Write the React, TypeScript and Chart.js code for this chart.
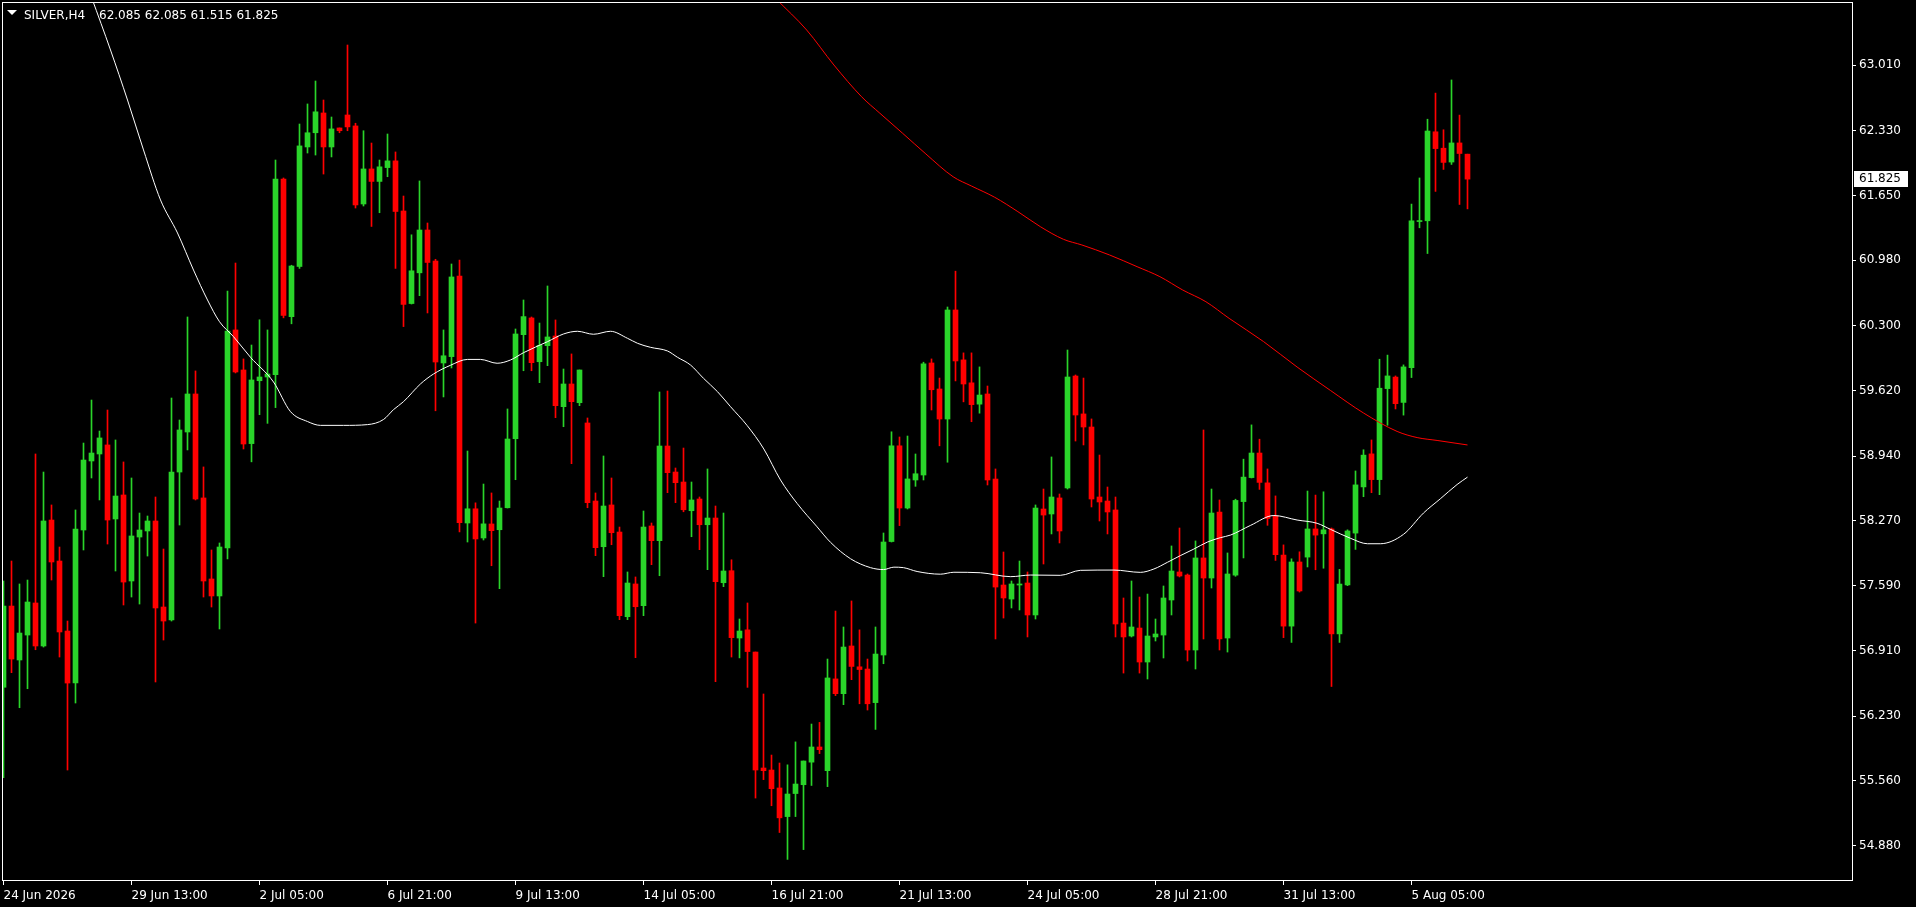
import React, { useEffect, useRef } from 'react';
import { Chart, registerables } from 'chart.js';

Chart.register(...registerables);

// ---------- data ----------
const SYMBOL = 'SILVER,H4';

const OPEN = [
  56.532, 57.378, 56.816, 57.076, 57.410, 56.962, 58.274, 57.847, 57.118, 56.576,
  58.170, 58.889, 58.962, 59.056, 58.285, 58.535, 57.639, 58.097, 58.160, 58.264,
  57.368, 57.233, 58.774, 59.191, 59.587, 58.504, 57.660, 57.483, 57.983, 60.254,
  59.837, 59.070, 59.725, 59.764, 59.787, 61.826, 60.392, 60.915, 62.160, 62.308,
  62.514, 62.160, 62.358, 62.493, 62.379, 61.566, 61.931, 61.801, 61.945, 62.015,
  61.493, 60.529, 60.849, 61.295, 60.972, 59.910, 59.976, 60.816, 58.243, 58.391,
  58.087, 58.233, 58.173, 58.402, 59.121, 60.205, 60.379, 59.923, 60.090, 60.191,
  59.455, 59.691, 59.496, 59.285, 58.472, 57.996, 58.431, 58.149, 57.267, 57.608,
  57.382, 58.212, 58.059, 59.045, 58.774, 58.670, 58.371, 58.493, 58.225, 58.295,
  57.621, 57.746, 57.045, 57.130, 56.899, 55.691, 55.670, 55.483, 55.185, 55.425,
  55.517, 55.752, 55.910, 55.663, 56.619, 56.465, 56.962, 56.745, 56.722, 56.372,
  56.868, 58.050, 59.047, 58.399, 58.691, 58.743, 59.910, 59.639, 59.326, 60.462,
  59.942, 59.703, 59.481, 59.587, 58.701, 57.597, 57.451, 57.597, 57.618, 57.285,
  58.389, 58.337, 58.504, 58.608, 59.774, 59.379, 59.243, 58.514, 58.472, 58.379,
  57.201, 57.066, 57.149, 56.795, 57.056, 57.076, 57.441, 57.733, 57.701, 56.920,
  57.879, 57.670, 58.358, 57.045, 57.700, 58.466, 58.716, 58.972, 58.661, 58.317,
  57.909, 57.169, 57.837, 57.888, 58.181, 58.130, 58.181, 57.088, 57.598, 58.138,
  58.619, 58.963, 58.695, 59.643, 59.763, 59.499, 59.860, 61.383, 61.391, 62.318,
  62.147, 62.003, 62.202, 62.085,
];

const HIGH = [
  57.639, 57.847, 57.608, 57.649, 58.962, 58.774, 58.431, 57.993, 57.222, 58.379,
  59.076, 59.524, 59.201, 59.420, 59.108, 58.879, 58.712, 58.347, 58.316, 58.514,
  57.972, 59.545, 59.316, 60.389, 59.827, 58.827, 57.962, 58.035, 60.660, 60.951,
  59.952, 60.097, 60.360, 60.254, 62.024, 61.837, 60.928, 62.399, 62.608, 62.847,
  62.649, 62.472, 62.358, 63.222, 62.407, 62.329, 62.201, 62.024, 62.295, 62.108,
  61.649, 61.245, 61.806, 61.368, 60.990, 60.254, 60.941, 60.983, 58.993, 58.453,
  58.649, 58.556, 58.472, 59.431, 60.264, 60.566, 60.389, 60.326, 60.712, 60.358,
  59.847, 60.004, 59.837, 59.337, 58.556, 58.941, 58.712, 58.201, 57.733, 57.681,
  58.368, 58.243, 59.608, 59.618, 58.816, 59.024, 58.670, 58.514, 58.806, 58.420,
  58.347, 57.860, 57.243, 57.410, 56.899, 56.462, 55.826, 55.743, 55.724, 55.963,
  55.764, 56.149, 56.166, 56.826, 57.326, 57.160, 57.431, 57.130, 56.826, 57.160,
  58.139, 59.193, 59.139, 59.149, 58.962, 59.918, 59.952, 59.753, 60.493, 60.866,
  60.015, 60.015, 59.869, 59.670, 58.806, 57.941, 57.639, 57.847, 57.733, 58.431,
  58.597, 58.931, 58.545, 60.045, 59.785, 59.753, 59.327, 58.951, 58.618, 58.514,
  57.462, 57.639, 57.472, 57.503, 57.243, 57.587, 58.004, 58.191, 57.712, 58.056,
  59.212, 58.597, 58.483, 57.931, 58.491, 58.908, 59.265, 59.116, 58.806, 58.525,
  58.015, 57.870, 57.943, 58.576, 58.534, 58.568, 58.191, 57.760, 58.172, 58.785,
  59.006, 59.108, 59.949, 59.992, 59.775, 59.890, 61.565, 61.837, 62.449, 62.721,
  62.339, 62.858, 62.492, 62.085,
];

const LOW = [
  55.590, 56.684, 56.319, 56.517, 56.923, 56.951, 57.649, 56.847, 55.670, 56.368,
  57.962, 58.712, 58.483, 58.024, 57.743, 57.389, 57.472, 57.399, 57.899, 56.587,
  57.024, 57.222, 58.222, 59.004, 58.483, 57.472, 57.368, 57.139, 57.868, 59.806,
  59.014, 58.880, 59.371, 59.281, 59.445, 60.380, 60.318, 60.895, 62.097, 62.076,
  61.878, 62.056, 62.308, 62.329, 61.524, 61.545, 61.332, 61.475, 61.850, 60.895,
  60.289, 60.524, 60.611, 60.431, 59.412, 59.556, 59.858, 58.149, 58.045, 57.201,
  58.066, 57.798, 57.559, 58.399, 58.694, 59.829, 59.829, 59.705, 59.882, 59.340,
  59.246, 58.861, 59.465, 58.402, 57.903, 57.684, 58.017, 57.236, 57.236, 56.840,
  57.278, 57.809, 57.694, 58.559, 58.455, 58.360, 58.100, 57.965, 57.757, 56.590,
  57.580, 56.847, 56.838, 56.531, 55.378, 55.570, 55.298, 55.019, 54.739, 55.185,
  54.841, 55.509, 55.841, 55.497, 56.445, 56.351, 56.611, 56.360, 56.295, 56.093,
  56.777, 58.045, 58.216, 58.389, 58.625, 58.691, 59.420, 59.047, 58.876, 59.723,
  59.505, 59.298, 59.387, 58.639, 57.035, 57.253, 57.358, 57.337, 57.056, 57.243,
  57.816, 58.129, 58.035, 58.597, 59.097, 59.056, 58.410, 58.264, 58.129, 57.056,
  56.680, 57.056, 56.680, 56.618, 57.014, 56.837, 57.285, 57.681, 56.806, 56.722,
  57.035, 57.566, 56.920, 56.899, 57.688, 57.879, 58.712, 58.593, 58.219, 57.853,
  57.049, 56.999, 57.524, 57.785, 57.756, 57.772, 56.540, 56.999, 57.590, 57.968,
  58.517, 58.559, 58.538, 59.261, 59.431, 59.367, 59.758, 61.318, 61.050, 61.697,
  61.926, 61.978, 61.561, 61.515,
];

const CLOSE = [
  57.378, 56.826, 57.097, 57.420, 56.962, 58.264, 57.837, 57.108, 56.576, 58.181,
  58.899, 58.972, 59.129, 58.274, 58.524, 57.628, 58.108, 58.170, 58.264, 57.358,
  57.222, 58.774, 59.212, 59.587, 58.493, 57.639, 57.483, 57.993, 60.243, 59.816,
  59.066, 59.733, 59.764, 59.795, 61.826, 60.405, 60.920, 62.171, 62.308, 62.526,
  62.160, 62.348, 62.329, 62.369, 61.556, 61.931, 61.801, 61.953, 62.015, 61.488,
  60.520, 60.870, 61.295, 60.957, 59.920, 59.985, 60.806, 58.246, 58.391, 58.077,
  58.234, 58.163, 58.399, 59.118, 60.212, 60.393, 59.913, 60.094, 60.181, 59.465,
  59.691, 59.507, 59.837, 58.455, 57.986, 58.420, 58.142, 57.278, 57.618, 57.371,
  58.201, 58.059, 59.045, 58.767, 58.663, 58.381, 58.483, 58.225, 58.295, 57.632,
  57.743, 57.049, 57.118, 56.904, 55.670, 55.663, 55.476, 55.172, 55.420, 55.524,
  55.764, 55.910, 55.882, 56.629, 56.465, 56.951, 56.749, 56.717, 56.360, 56.878,
  58.045, 59.047, 58.399, 58.702, 58.756, 59.901, 59.631, 59.326, 60.462, 59.931,
  59.691, 59.476, 59.576, 58.691, 57.576, 57.462, 57.608, 57.608, 57.285, 58.399,
  58.326, 58.514, 58.160, 59.764, 59.368, 59.243, 58.493, 58.462, 58.358, 57.191,
  57.056, 57.160, 56.795, 57.066, 57.087, 57.462, 57.743, 57.691, 56.920, 57.879,
  57.670, 58.347, 57.035, 57.712, 58.478, 58.721, 58.972, 58.666, 58.291, 57.913,
  57.169, 57.837, 57.535, 58.181, 58.117, 58.172, 57.088, 57.607, 58.160, 58.640,
  58.950, 58.695, 59.647, 59.775, 59.486, 59.869, 61.391, 61.391, 62.326, 62.143,
  61.999, 62.202, 62.092, 61.825,
];

// white moving average, sampled (bar index, price)
const MA_WHITE_X = [
  11.0, 13.375, 15.5, 17.5, 19.625, 21.75, 23.75, 25.5, 27, 28.75, 30.875, 33.75,
  35.875, 38, 39.625, 42.5, 45.5, 47.5, 48.75, 50, 52.125, 53.75, 55.875, 58,
  59.625, 61.7, 63.375, 65, 68, 70, 71.75, 73.75, 75.875, 78, 79.25, 80.875, 83,
  84.25, 85.875, 87.5, 89.25, 90.875, 92.96, 95.04, 97.125, 99.2, 101.7, 103.375,
  105.875, 108.375, 110, 111.3, 112.5, 114.2, 117.125, 118.8, 122.125, 125.9,
  128.4, 132.1, 134.6, 138.8, 142.1, 143.8, 145.5, 147.1, 148.8, 150.5, 152.1,
  153.4, 155.9, 158.8, 161.7, 164.2, 165.9, 168.4, 170.5, 172.1, 175, 177.5,
  179.6, 181.7, 183,
];
const MA_WHITE_Y = [
  63.72, 63.17, 62.649, 62.129, 61.608, 61.264, 60.878, 60.566, 60.34, 60.184,
  59.969, 59.712, 59.403, 59.3, 59.26, 59.26, 59.268, 59.321, 59.424, 59.507,
  59.692, 59.795, 59.886, 59.947, 59.947, 59.907, 59.941, 60.017, 60.132, 60.212,
  60.24, 60.209, 60.24, 60.167, 60.115, 60.073, 60.035, 59.969, 59.889, 59.75,
  59.611, 59.455, 59.258, 59.014, 58.691, 58.447, 58.203, 58.042, 57.871, 57.778,
  57.758, 57.783, 57.778, 57.738, 57.71, 57.73, 57.725, 57.684, 57.701, 57.698,
  57.75, 57.753, 57.729, 57.764, 57.834, 57.903, 57.972, 58.045, 58.09, 58.118,
  58.219, 58.321, 58.274, 58.24, 58.176, 58.083, 58.027, 58.027, 58.125, 58.347,
  58.495, 58.644, 58.721,
];

// red moving average, sampled (bar index, price)
const MA_RED_X = [
  96.6, 100.4, 103.8, 107.25, 109.55, 112.4, 115.3, 118.7, 121.0, 123.9, 126.8,
  129.6, 132.5, 134.8, 138.25, 141.7, 144.55, 147.4, 150.3, 153.2, 157.5, 161.7,
  165.9, 170.0, 174.2, 176.7, 179.2, 183.0,
];
const MA_RED_Y = [
  63.70, 63.378, 63.014, 62.684, 62.511, 62.302, 62.087, 61.85, 61.753, 61.636,
  61.486, 61.33, 61.198, 61.139, 61.035, 60.913, 60.809, 60.67, 60.548, 60.375,
  60.133, 59.868, 59.622, 59.389, 59.197, 59.133, 59.103, 59.056,
];

const X_TICK_INDEX = [0, 16, 32, 48, 64, 80, 96, 112, 128, 144, 160, 176];
const X_TICK_LABELS = [
  '24 Jun 2026', '29 Jun 13:00', '2 Jul 05:00', '6 Jul 21:00', '9 Jul 13:00',
  '14 Jul 05:00', '16 Jul 21:00', '21 Jul 13:00', '24 Jul 05:00', '28 Jul 21:00',
  '31 Jul 13:00', '5 Aug 05:00',
];
const Y_TICKS = [
  63.01, 62.33, 61.65, 60.98, 60.3, 59.62, 58.94, 58.27, 57.59, 56.91, 56.23, 55.56, 54.88,
];

// visible ranges of the two axes
const X_MIN = -0.1875;
const X_MAX = 231.1875;
const Y_MIN = 54.514;
const Y_MAX = 63.67;

// ---------- styling ----------
const W = 1916;
const H = 907;
const FONT = '"DejaVu Sans", sans-serif';
const BULL = '#2ad42a';
const BEAR = '#ff0000';

const chromePlugin = {
  id: 'mt4chrome',
  beforeDraw(chart: any) {
    const ctx = chart.ctx;
    ctx.save();
    ctx.fillStyle = '#000';
    ctx.fillRect(0, 0, chart.width, chart.height);
    ctx.restore();
  },
  afterDraw(chart: any) {
    const ctx = chart.ctx;
    const { left, top, right, bottom } = chart.chartArea;
    ctx.save();
    // frame
    ctx.strokeStyle = '#ffffff';
    ctx.lineWidth = 1;
    ctx.strokeRect(left + 0.5, top + 0.5, right - left - 1, bottom - top - 1);

    // header
    const last = CLOSE.length - 1;
    ctx.fillStyle = '#ffffff';
    ctx.beginPath();
    ctx.moveTo(7, 10);
    ctx.lineTo(17, 10);
    ctx.lineTo(12, 15);
    ctx.closePath();
    ctx.fill();
    ctx.font = `12px ${FONT}`;
    ctx.textBaseline = 'alphabetic';
    ctx.textAlign = 'left';
    ctx.fillText(SYMBOL, 24, 19);
    ctx.fillText(
      [OPEN[last], HIGH[last], LOW[last], CLOSE[last]].map((v) => v.toFixed(3)).join(' '),
      99,
      19
    );

    // current price box
    const y = chart.scales.y.getPixelForValue(CLOSE[last]);
    ctx.fillStyle = '#ffffff';
    ctx.fillRect(right + 1, Math.round(y) - 8, 54, 16);
    ctx.fillStyle = '#000000';
    ctx.textBaseline = 'middle';
    ctx.fillText(CLOSE[last].toFixed(3), right + 6, Math.round(y));
    ctx.restore();
  },
};

export default function App() {
  const ref = useRef<HTMLCanvasElement | null>(null);

  useEffect(() => {
    const canvas = ref.current;
    if (!canvas) return;
    document.body.style.margin = '0';
    document.body.style.background = '#000';

    const idx = CLOSE.map((_, i) => i);
    const colors = idx.map((i) => (CLOSE[i] >= OPEN[i] ? BULL : BEAR));

    const chart = new Chart(canvas, {
      type: 'bar',
      data: {
        datasets: [
          {
            type: 'line',
            data: MA_WHITE_X.map((x, k) => ({ x, y: MA_WHITE_Y[k] })),
            borderColor: '#ffffff',
            borderWidth: 1,
            pointRadius: 0,
            fill: false,
            cubicInterpolationMode: 'monotone',
          } as any,
          {
            type: 'line',
            data: MA_RED_X.map((x, k) => ({ x, y: MA_RED_Y[k] })),
            borderColor: '#ff0000',
            borderWidth: 1,
            pointRadius: 0,
            fill: false,
            cubicInterpolationMode: 'monotone',
          } as any,
          {
            type: 'bar',
            data: idx.map((i) => ({ x: i, y: [OPEN[i], CLOSE[i]] })),
            backgroundColor: colors,
            borderWidth: 0,
            barThickness: 5,
            minBarLength: 1,
            grouped: false,
          } as any,
          {
            type: 'bar',
            data: idx.map((i) => ({ x: i, y: [LOW[i], HIGH[i]] })),
            backgroundColor: colors,
            borderWidth: 0,
            barThickness: 1,
            minBarLength: 1,
            grouped: false,
          } as any,
        ],
      },
      options: {
        responsive: false,
        animation: false,
        devicePixelRatio: 1,
        events: [],
        layout: { padding: { left: 2, top: 2, right: 0, bottom: 0 } },
        plugins: { legend: { display: false }, tooltip: { enabled: false } },
        scales: {
          x: {
            type: 'linear',
            position: 'bottom',
            min: X_MIN,
            max: X_MAX,
            offset: false,
            bounds: 'data',
            border: { display: false },
            grid: {
              offset: false,
              drawOnChartArea: false,
              drawTicks: true,
              tickLength: 4,
              color: '#ffffff',
            },
            afterBuildTicks: (s: any) => {
              s.ticks = X_TICK_INDEX.map((v) => ({ value: v }));
            },
            afterFit: (s: any) => {
              s.height = H - 881;
              s.paddingLeft = 0;
              s.paddingRight = 0;
              s.paddingTop = 0;
              s.paddingBottom = 0;
            },
            ticks: {
              autoSkip: false,
              maxRotation: 0,
              minRotation: 0,
              align: 'start',
              padding: 4,
              color: '#ffffff',
              font: { family: FONT, size: 12 },
              callback: (_v: any, k: number) => X_TICK_LABELS[k] ?? '',
            },
          },
          y: {
            type: 'linear',
            position: 'right',
            min: Y_MIN,
            max: Y_MAX,
            beginAtZero: false,
            bounds: 'data',
            border: { display: false },
            grid: {
              drawOnChartArea: false,
              drawTicks: true,
              tickLength: 3,
              color: '#ffffff',
            },
            afterBuildTicks: (s: any) => {
              s.ticks = Y_TICKS.map((v) => ({ value: v }));
            },
            afterFit: (s: any) => {
              s.width = W - 1853;
              s.paddingLeft = 0;
              s.paddingRight = 0;
              s.paddingTop = 0;
              s.paddingBottom = 0;
            },
            ticks: {
              padding: 3,
              color: '#ffffff',
              font: { family: FONT, size: 12 },
              callback: (v: any) => Number(v).toFixed(3),
            },
          },
        },
      } as any,
      plugins: [chromePlugin],
    });

    return () => chart.destroy();
  }, []);

  return (
    <div style={{ position: 'fixed', left: 0, top: 0, width: W, height: H, background: '#000' }}>
      <canvas ref={ref} width={W} height={H} style={{ display: 'block' }} />
    </div>
  );
}
